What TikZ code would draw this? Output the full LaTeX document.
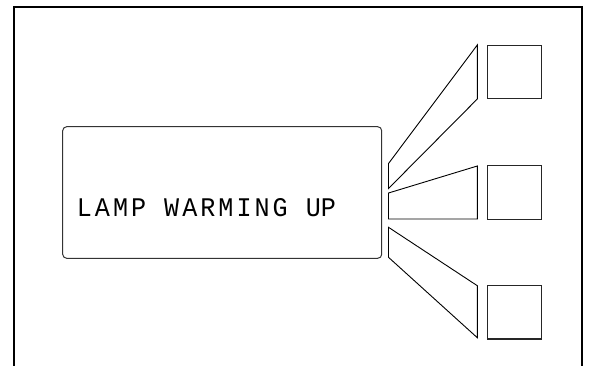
\documentclass[tikz,border=0pt]{standalone}
\usepackage{fontspec}
\newfontfamily\lampfont[LetterSpace=12]{Liberation Mono}
\begin{document}
\begin{tikzpicture}[x=1pt,y=-1pt,
  frameline/.style={line width=2pt,black},
  shapeline/.style={line width=0.9pt,black,line join=miter},
  panel/.style={draw=black!80,line width=1pt,rounded corners=4pt,minimum width=319pt,minimum height=131.6pt,inner sep=0pt},
  lampbox/.style={draw=black!85,line width=1.2pt,minimum width=53.6pt,minimum height=53.4pt,inner sep=0pt}]
\useasboundingbox (0,0) rectangle (589,365);
% outer frame, open at the bottom
\draw[frameline] (14.3,366) -- (14.3,7) -- (582,7) -- (582,366);
% main panel
\node[panel] (panel) at (222.2,192.5) {};
\node[anchor=south west,inner sep=0pt] (label) at (76.7,217.3)
  {\resizebox{259pt}{18pt}{\lampfont LAMP WARMING U\hbox{P}}};
% lamp squares
\node[lampbox] (sqA) at (514.5,72) {};
\node[lampbox] (sqB) at (514.5,192.5) {};
\node[lampbox] (sqC) at (514.5,312.2) {};
% trapezoid beams
\draw[shapeline] (388.5,163.5) -- (477.3,45) -- (477.3,99) -- (388.5,188.5) -- cycle;
\draw[shapeline] (388.5,193) -- (477.3,166) -- (477.3,219) -- (388.5,219) -- cycle;
\draw[shapeline] (388.5,227.3) -- (477.3,285.7) -- (477.3,337.7) -- (388.5,257.3) -- cycle;
\end{tikzpicture}
\end{document}
